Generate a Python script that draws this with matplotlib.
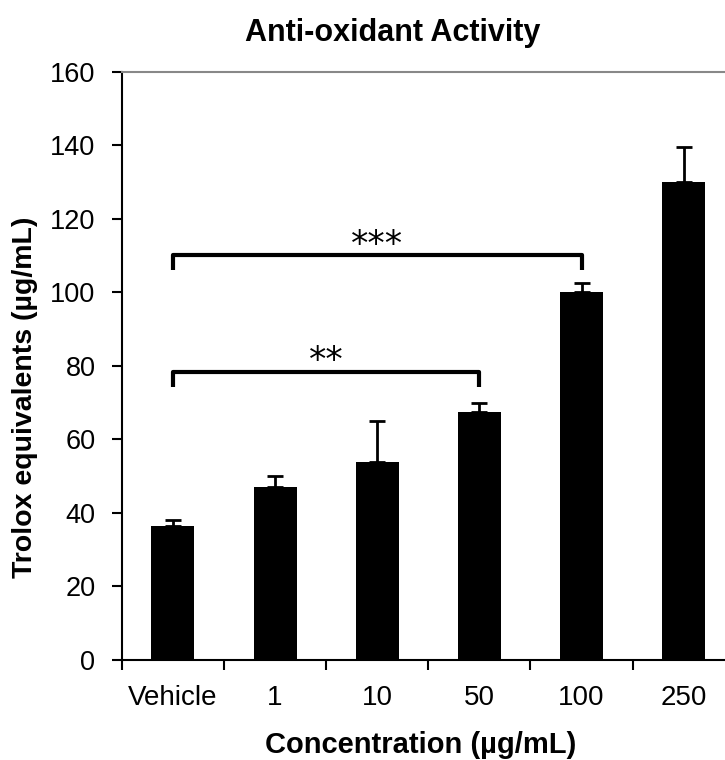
import matplotlib
matplotlib.use("Agg")
import matplotlib.pyplot as plt
import numpy as np

plt.rcParams["font.family"] = ["Liberation Sans", "DejaVu Sans"]

# Data
categories = ["Vehicle", "1", "10", "50", "100", "250"]
means = [36.5, 47, 54, 67.5, 100, 130]
errors = [1.5, 3, 11, 2.5, 2.5, 9.5]

# significance brackets: (start index, end index, height, label)
brackets = [(0, 3, 78.4, "**"), (0, 4, 110.2, "***")]

fig = plt.figure(figsize=(7.25, 7.6), dpi=100)
ax = fig.add_axes([0.168, 0.1316, 0.8455, 0.7737])

x = np.arange(len(categories))
ax.bar(x, means, width=0.42, color="black", zorder=2)
ax.errorbar(x, means, yerr=[np.zeros(len(errors)), errors], fmt="none",
            ecolor="black", elinewidth=2, capsize=6, capthick=2, zorder=3)

# brackets
for i0, i1, h, label in brackets:
    leg = 4
    ax.plot([x[i0], x[i0], x[i1], x[i1]], [h - leg, h, h, h - leg],
            color="black", linewidth=3, solid_joinstyle="round",
            solid_capstyle="butt", zorder=4)
    ax.text((x[i0] + x[i1]) / 2, h + 0.1, label, ha="center", va="baseline",
            fontsize=25, family="DejaVu Sans")

ax.set_xlim(-0.5, len(categories) - 0.5)
ax.set_ylim(0, 160)
ax.set_yticks(np.arange(0, 161, 20))

# category labels between boundary ticks
ax.set_xticks(np.arange(-0.5, len(categories)), minor=False)
ax.set_xticklabels([])
ax.set_xticks(x, minor=True)
ax.set_xticklabels(categories, minor=True)
ax.tick_params(axis="x", which="major", direction="out", length=7, width=1.5)
ax.tick_params(axis="x", which="minor", length=0, pad=18, labelsize=20)
ax.tick_params(axis="y", direction="out", length=7, width=1.5, labelsize=19.5, pad=12)

ax.spines["left"].set_linewidth(1.5)
ax.spines["bottom"].set_linewidth(1.5)
ax.spines["top"].set_color("#888888")
ax.spines["top"].set_linewidth(1.5)
ax.spines["right"].set_visible(False)

fig.text(393 / 725, 1 - 33 / 760, "Anti-oxidant Activity", ha="center", va="center",
         fontsize=22, fontweight="bold")
fig.text(421 / 725, 1 - 745 / 760, "Concentration (µg/mL)", ha="center", va="center",
         fontsize=21, fontweight="bold")
fig.text(25 / 725, 1 - 397 / 760, "Trolox equivalents (µg/mL)", ha="center", va="center",
         rotation=90, fontsize=20.5, fontweight="bold")

fig.savefig("out.png", dpi=100)
